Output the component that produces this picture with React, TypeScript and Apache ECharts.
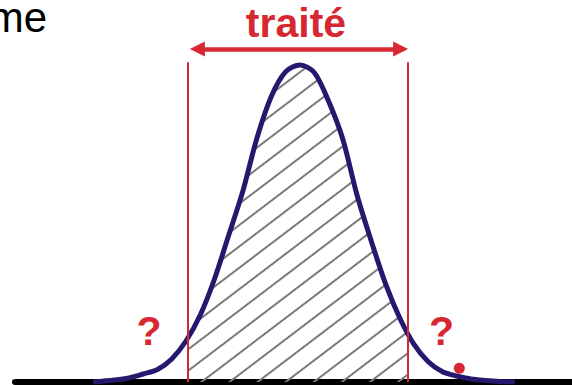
import React, { useEffect, useRef } from "react";
import * as echarts from "echarts";

// Bell curve (x in standard-deviation units, y in density)
const curveX = [-3.63, -3.25, -3, -2.75, -2.5, -2.25, -2, -1.75, -1.5, -1.25, -1, -0.75, -0.5, -0.25, 0, 0.25, 0.5, 0.75, 1, 1.25, 1.5, 1.75, 2, 2.25, 2.5, 2.75, 3, 3.25, 3.5, 3.77];
const curveY = [0, 0.0025, 0.0051, 0.0101, 0.0158, 0.0291, 0.0518, 0.0846, 0.1301, 0.1857, 0.2418, 0.3094, 0.3613, 0.392, 0.4005, 0.3909, 0.3549, 0.3069, 0.2362, 0.1781, 0.1242, 0.0808, 0.0474, 0.0256, 0.013, 0.0076, 0.0038, 0.0019, 0.0006, 0];

// Treated band limits and the curve height at each limit
const treatedRange = [-1.974, 1.895];
const treatedEdgeY = [0.0543, 0.0594];
const treatedLineTop = 0.404;
const arrowLevel = 0.4206;
const arrowEnds = [-1.8, 1.765];
const treatedLabel = "traité";
const unknownLabel = "?";
const cutTitle = "me";
const strayDot = [2.795, 0.0173];

const RED = "#D72832";
const NAVY = "#26186E";

export default function App() {
  const ref = useRef<HTMLDivElement>(null);
  useEffect(() => {
    if (!ref.current) return;
    const chart = echarts.init(ref.current, null, { renderer: "svg" });
    const curve = curveX.map((x, i) => [x, curveY[i]]);
    const hatched = [
      [treatedRange[0], treatedEdgeY[0]],
      ...curve.filter((p) => p[0] > treatedRange[0] && p[0] < treatedRange[1]),
      [treatedRange[1], treatedEdgeY[1]],
    ];
    chart.setOption({
      animation: false,
      backgroundColor: "#ffffff",
      grid: { left: 15, right: 0, top: 2, bottom: 3 },
      xAxis: {
        type: "value",
        min: -5,
        max: 5,
        axisLine: { show: true, onZero: false, lineStyle: { color: "#000", width: 6 } },
        axisTick: { show: false },
        axisLabel: { show: false },
        splitLine: { show: false },
      },
      yAxis: {
        type: "value",
        min: 0,
        max: 0.48,
        show: false,
        splitLine: { show: false },
      },
      graphic: [
        {
          type: "text",
          style: {
            text: cutTitle,
            x: 47,
            y: 17.4,
            align: "right",
            verticalAlign: "middle",
            font: '42px "Liberation Sans", Arial, sans-serif',
            fill: "#000",
          },
        },
        {
          type: "text",
          style: {
            text: treatedLabel,
            x: 296,
            y: 23.3,
            align: "center",
            verticalAlign: "middle",
            font: 'bold 41px "Liberation Sans", Arial, sans-serif',
            fill: RED,
          },
        },
        {
          type: "text",
          style: {
            text: unknownLabel,
            x: 149,
            y: 330.8,
            align: "center",
            verticalAlign: "middle",
            font: 'bold 41px "Liberation Sans", Arial, sans-serif',
            fill: RED,
          },
        },
        {
          type: "text",
          style: {
            text: unknownLabel,
            x: 441.5,
            y: 330.8,
            align: "center",
            verticalAlign: "middle",
            font: 'bold 41px "Liberation Sans", Arial, sans-serif',
            fill: RED,
          },
        },
      ],
      series: [
        {
          type: "line",
          data: hatched,
          smooth: 0.3,
          symbol: "none",
          silent: true,
          z: 1,
          lineStyle: { width: 0, opacity: 0 },
          areaStyle: { color: "rgba(255,255,255,0)", opacity: 1 },
          itemStyle: {
            color: "#808080",
            decal: {
              symbol: "rect",
              symbolSize: 1,
              dashArrayX: [1, 0],
              dashArrayY: [2, 14.3],
              rotation: -0.65,
              color: "#7a7a7a",
              backgroundColor: null,
            },
          },
        },
        {
          type: "line",
          data: curve,
          smooth: 0.3,
          symbol: "none",
          silent: true,
          z: 3,
          lineStyle: { color: NAVY, width: 5 },
          markLine: {
            silent: true,
            symbol: "none",
            label: { show: false },
            lineStyle: { color: RED, width: 2, type: "solid" },
            data: [
              [{ coord: [treatedRange[0], 0] }, { coord: [treatedRange[0], treatedLineTop] }],
              [{ coord: [treatedRange[1], 0] }, { coord: [treatedRange[1], treatedLineTop] }],
              [
                {
                  coord: [arrowEnds[0], arrowLevel],
                  symbol: "triangle",
                  symbolSize: [15, 15],
                  lineStyle: { color: RED, width: 4.5 },
                },
                {
                  coord: [arrowEnds[1], arrowLevel],
                  symbol: "triangle",
                  symbolSize: [15, 15],
                },
              ],
            ],
          },
        },
        {
          type: "scatter",
          data: [strayDot],
          symbolSize: 11,
          silent: true,
          z: 4,
          itemStyle: { color: RED, opacity: 1 },
        },
      ],
    });
    return () => chart.dispose();
  }, []);
  return (
    <div
      style={{
        position: "absolute",
        left: 0,
        top: 0,
        width: 572,
        height: 385,
        overflow: "hidden",
        background: "#fff",
      }}
    >
      <div ref={ref} style={{ width: 585, height: 385 }} />
    </div>
  );
}
